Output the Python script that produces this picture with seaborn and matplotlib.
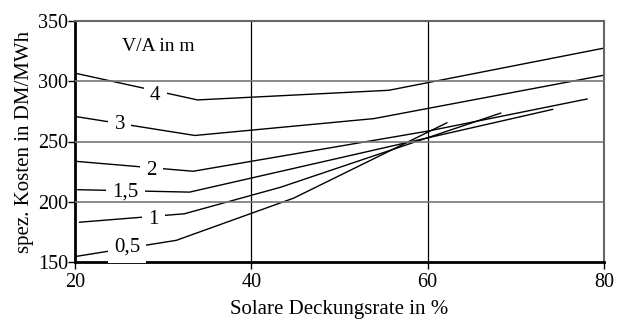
import matplotlib
matplotlib.use("Agg")
import matplotlib.pyplot as plt
import seaborn as sns
import pandas as pd

# Data
va_labels = ["4", "3", "2", "1,5", "1", "0,5"]
x_4 = [20, 33.9, 55.6, 80]
y_4 = [306.7, 284.5, 292.5, 327.5]
x_3 = [20, 33.6, 53.9, 80]
y_3 = [270.8, 255, 269, 305]
x_2 = [20, 33.4, 60, 78.1]
y_2 = [233.6, 225.3, 258.6, 285.3]
x_15 = [20.3, 33, 74.2]
y_15 = [210, 208, 276.7]
x_1 = [20.5, 32.4, 43.3, 68.3]
y_1 = [183, 190, 212, 273.6]
x_05 = [20, 31.5, 44.8, 62.2]
y_05 = [154.5, 168, 203, 265.6]

# label positions on the curves
label_x = [29.1, 25.1, 28.7, 25.7, 28.9, 25.9]
label_y = [288, 264, 225.8, 207.8, 185, 162.5]

x_ticks = [20, 40, 60, 80]
y_ticks = [150, 200, 250, 300, 350]

series_x = [x_4, x_3, x_2, x_15, x_1, x_05]
series_y = [y_4, y_3, y_2, y_15, y_1, y_05]
rows = []
for lab, xs, ys in zip(va_labels, series_x, series_y):
    for xv, yv in zip(xs, ys):
        rows.append({"VA": lab, "x": xv, "y": yv})
df = pd.DataFrame(rows)

sns.set_theme(style="white")
plt.rcParams["font.family"] = ["Liberation Serif", "DejaVu Serif"]

fig = plt.figure(figsize=(6.24, 3.20), dpi=100)
ax = fig.add_axes([75 / 624, 1 - 262 / 320, (604 - 75) / 624, (262 - 21) / 320])

sns.lineplot(data=df, x="x", y="y", hue="VA", palette=["black"] * 6,
             legend=False, ax=ax, linewidth=1.0, sort=False, estimator=None)

ax.set_xlim(20, 80)
ax.set_ylim(150, 350)
ax.set_xticks(x_ticks)
ax.set_yticks(y_ticks)
ax.tick_params(axis="both", labelsize=14.5, length=5, width=1, color="black",
               direction="out", left=True, bottom=True, labelcolor="black")
ax.tick_params(axis="x", pad=3)
ax.tick_params(axis="y", pad=0)

# grid (drawn above the label boxes, which only open gaps in the curves)
for yv in [200, 250, 300]:
    ax.axhline(yv, color="#777777", lw=1.2, zorder=6)
ax.axvline(40, color="black", lw=0.9, zorder=0.5)
ax.axvline(60, color="black", lw=0.9, zorder=0.5)

for side in ["left", "bottom"]:
    ax.spines[side].set_color("black")
    ax.spines[side].set_linewidth(2.0)
for side in ["top", "right"]:
    ax.spines[side].set_color("#666666")
    ax.spines[side].set_linewidth(1.5)
    ax.spines[side].set_visible(True)

for lab, lx, ly in zip(va_labels, label_x, label_y):
    ax.text(lx, ly, lab, fontsize=15, ha="center", va="center", color="black",
            bbox=dict(boxstyle="square,pad=0.3", fc="white", ec="none"), zorder=5)

ax.text(29.4, 329, "V/A in m", fontsize=14, ha="center", va="center", color="black")

ax.set_xlabel("Solare Deckungsrate in %", fontsize=15, color="black", labelpad=6)
ax.set_ylabel("spez. Kosten in DM/MWh", fontsize=15, color="black", labelpad=3)

fig.savefig("out.png", dpi=100)
